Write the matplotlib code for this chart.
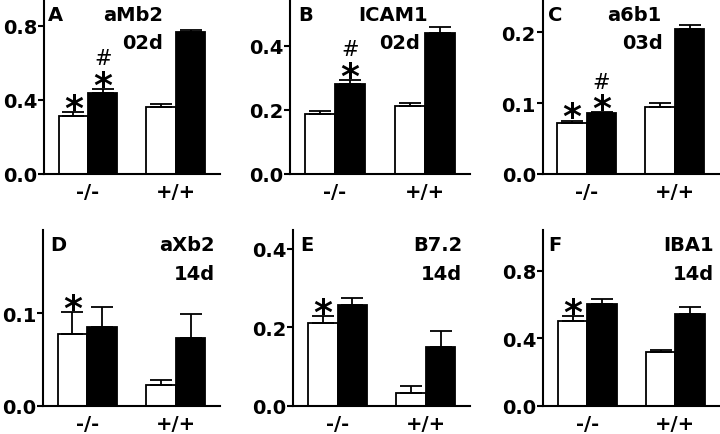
import matplotlib
matplotlib.use("Agg")
import matplotlib.pyplot as plt
import numpy as np

# panel data
panel_letters = ["A", "B", "C", "D", "E", "F"]
marker_names = ["aMb2", "ICAM1", "a6b1", "aXb2", "B7.2", "IBA1"]
time_points = ["02d", "02d", "03d", "14d", "14d", "14d"]
genotypes = ["-/-", "+/+"]

white_means = [[0.313, 0.364], [0.188, 0.213], [0.072, 0.095],
               [0.077, 0.022], [0.210, 0.031], [0.500, 0.316]]
white_errs = [[0.022, 0.014], [0.010, 0.009], [0.0032, 0.005],
              [0.024, 0.0054], [0.018, 0.018], [0.030, 0.016]]
black_means = [[0.440, 0.766], [0.281, 0.440], [0.0855, 0.204],
               [0.085, 0.0735], [0.255, 0.149], [0.599, 0.540]]
black_errs = [[0.020, 0.011], [0.013, 0.018], [0.0014, 0.006],
              [0.0215, 0.0255], [0.019, 0.041], [0.034, 0.043]]

y_tops = [0.946, 0.547, 0.247, 0.19, 0.448, 1.042]
y_ticks = [[0, 0.4, 0.8], [0, 0.2, 0.4], [0, 0.1, 0.2],
           [0, 0.1], [0, 0.2, 0.4], [0, 0.4, 0.8]]

# significance marks on the -/- bars
star_white = [True, False, True, True, True, True]
star_black = [True, True, True, False, False, False]
hash_black = [True, True, True, False, False, False]

# layout (figure fractions) and label placement (axes fractions)
axes_rects = [
    [0.0611, 0.598, 0.2444, 0.402],
    [0.4028, 0.598, 0.2500, 0.402],
    [0.7540, 0.598, 0.2444, 0.402],
    [0.0597, 0.0655, 0.2458, 0.404],
    [0.4074, 0.0655, 0.2454, 0.404],
    [0.7546, 0.0655, 0.2444, 0.404],
]
letter_x = [0.023, 0.044, 0.028, 0.040, 0.038, 0.027]
name_x = [0.676, 0.767, 0.676, 0.972, 0.955, 0.969]
day_x = [0.676, 0.722, 0.680, 0.972, 0.955, 0.969]

BAR_W = 0.335
LW = 1.3


def mark(ax, xpos, ytop, symbol):
    # star sits just above the cap, hash one step higher
    if symbol == "*":
        ax.annotate("*", (xpos, ytop), xytext=(0, -4.8), textcoords="offset points",
                    ha="center", va="baseline", fontsize=26, fontweight="bold")
    else:
        ax.annotate("#", (xpos, ytop), xytext=(0, 17.8), textcoords="offset points",
                    ha="center", va="baseline", fontsize=15)


fig = plt.figure(figsize=(7.2, 4.35), dpi=100)
x = np.arange(len(genotypes))

for i in range(6):
    ax = fig.add_axes(axes_rects[i])
    ax.bar(x - BAR_W / 2, white_means[i], BAR_W, color="white",
           edgecolor="black", linewidth=LW, zorder=2)
    ax.bar(x + BAR_W / 2, black_means[i], BAR_W, color="black",
           edgecolor="black", linewidth=LW, zorder=2)
    for offs, means, errs in ((-BAR_W / 2, white_means[i], white_errs[i]),
                              (BAR_W / 2, black_means[i], black_errs[i])):
        ax.errorbar(x + offs, means, yerr=[np.zeros(len(means)), errs],
                    fmt="none", ecolor="black", elinewidth=LW,
                    capsize=8, capthick=LW, zorder=3)

    wtop = white_means[i][0] + white_errs[i][0]
    btop = black_means[i][0] + black_errs[i][0]
    if star_white[i]:
        mark(ax, x[0] - BAR_W / 2, wtop, "*")
    if star_black[i]:
        mark(ax, x[0] + BAR_W / 2, btop, "*")
    if hash_black[i]:
        mark(ax, x[0] + BAR_W / 2, btop, "#")

    ax.text(letter_x[i], 0.914, panel_letters[i], transform=ax.transAxes,
            ha="left", va="center", fontsize=14, fontweight="bold")
    ax.text(name_x[i], 0.914, marker_names[i], transform=ax.transAxes,
            ha="right", va="center", fontsize=14, fontweight="bold")
    ax.text(day_x[i], 0.752, time_points[i], transform=ax.transAxes,
            ha="right", va="center", fontsize=14, fontweight="bold")

    ax.set_xlim(-0.5, 1.5)
    ax.set_ylim(0, y_tops[i])
    ax.set_yticks(y_ticks[i])
    ax.set_yticklabels([f"{t:.1f}" for t in y_ticks[i]], fontsize=14,
                       fontweight="bold")
    ax.set_xticks(x)
    ax.set_xticklabels(genotypes, fontsize=14, fontweight="bold")
    ax.tick_params(axis="x", length=0, pad=6)
    ax.tick_params(axis="y", length=4, width=1.5, pad=1)
    for side in ("top", "right"):
        ax.spines[side].set_visible(False)
    for side in ("left", "bottom"):
        ax.spines[side].set_linewidth(1.5)
    ax.patch.set_alpha(0)

fig.savefig("out.png", dpi=100)
